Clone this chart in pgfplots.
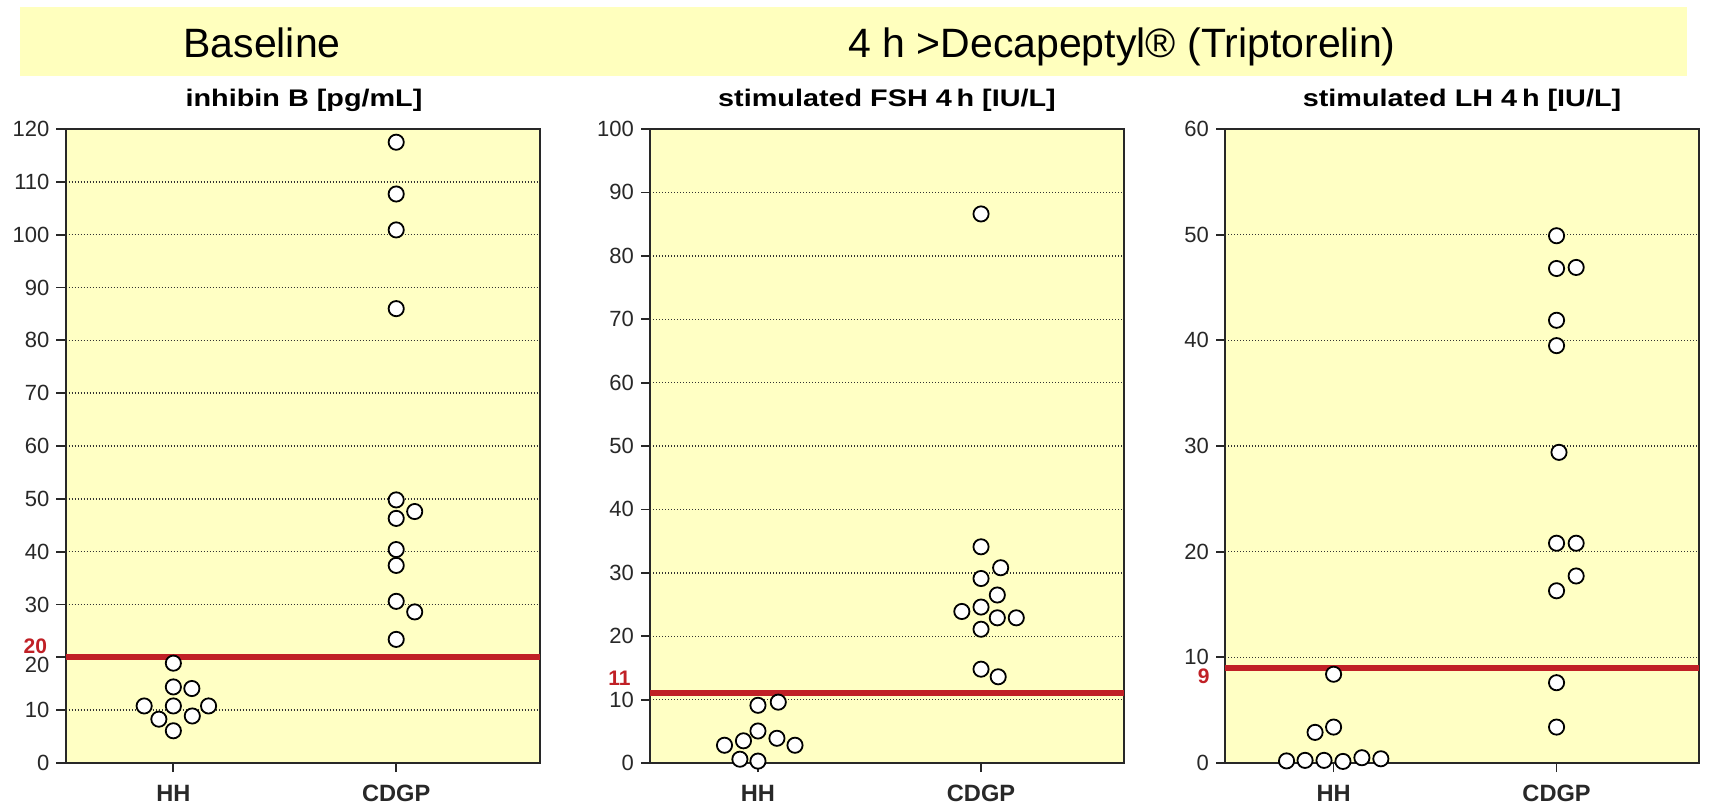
\documentclass[border=0pt]{standalone}
\usepackage{fontspec}
\setmainfont{Liberation Sans}
\usepackage{pgfplots}
\pgfplotsset{compat=1.18}
\definecolor{panel}{RGB}{255,255,196}
\definecolor{banner}{RGB}{255,255,190}
\definecolor{thr}{RGB}{192,32,38}
\definecolor{axc}{RGB}{40,40,40}

\pgfplotsset{
 dotplot/.style={
  scale only axis, width=237pt, height=317pt, ymin=0,
  axis background/.style={fill=panel},
  axis line style={axc, line width=1pt},
  tick align=outside, tick pos=left,
  major tick length=4.5pt,
  tick style={axc, line width=0.9pt},
  xtick={1,2}, xticklabels={HH,CDGP},
  xticklabel style={font=\fontsize{11.8}{13}\selectfont\bfseries, text=axc, yshift=-3pt},
  yticklabel style={font=\fontsize{11}{12}\selectfont, text=axc},
  /pgf/number format/assume math mode=true,
  ymajorgrids, major grid style={black!80, line width=0.7pt, dash pattern=on 0.7pt off 0.8pt},
  clip=false,
  anchor=south west,
 },
 pts/.style={only marks, mark=*, mark size=3.8pt, mark options={fill=white, draw=black, line width=0.9pt}},
 thrline/.style={thr, line width=3pt},
}
\tikzset{thrlab/.style={text=thr, font=\fontsize{10.5}{12}\selectfont\bfseries, inner sep=0pt}}

\begin{document}
\begin{tikzpicture}
\path[use as bounding box, fill=white] (0,0) rectangle (856pt,405.5pt);
% banner
\fill[banner] (10pt,367.5pt) rectangle (843.5pt,402pt);
\node[anchor=base west, inner sep=0pt, font=\fontsize{20.5}{24}\selectfont] at (91.5pt,377pt) {Baseline};
\node[anchor=base west, inner sep=0pt, font=\fontsize{20.5}{24}\selectfont] at (424pt,377pt) {4 h >Decapeptyl® (Triptorelin)};
% panel titles
\node[anchor=base, inner sep=0pt, font=\fontsize{12}{13}\selectfont\bfseries] at (152pt,352.5pt) {\scalebox{1.2}[1]{inhibin B [pg/mL]}};
\node[anchor=base, inner sep=0pt, font=\fontsize{12}{13}\selectfont\bfseries] at (443.5pt,352.5pt) {\scalebox{1.2}[1]{stimulated FSH 4\,h [IU/L]}};
\node[anchor=base, inner sep=0pt, font=\fontsize{12}{13}\selectfont\bfseries] at (731pt,352.5pt) {\scalebox{1.2}[1]{stimulated LH 4\,h [IU/L]}};

% Panel 1: inhibin B
\begin{axis}[dotplot, at={(32.75pt,24pt)}, xmin=0.516, xmax=2.643, ymax=120,
  ytick={0,10,30,40,50,60,70,80,90,100,110,120},
  extra y ticks={20}, extra y tick style={yticklabel style={yshift=-4pt}}]
\addplot[thrline] coordinates {(0.516,20) (2.643,20)};
\addplot[pts] table {
x y
1 18.9
1 14.4
1.083 14.1
0.869 10.8
1 10.8
1.158 10.8
0.935 8.3
1.085 8.9
1 6.1
};
\addplot[pts] table {
x y
2 117.5
2 107.7
2 100.9
2 86.0
2 49.8
2.083 47.6
2 46.3
2 40.4
2 37.4
2 30.6
2.083 28.6
2 23.4
};
\node[thrlab, anchor=base east] at (axis cs:0.516,20) [xshift=-9pt, yshift=2pt] {20};
\end{axis}

% Panel 2: FSH
\begin{axis}[dotplot, at={(325pt,24pt)}, xmin=0.516, xmax=2.641, ymax=100, ytick={0,10,...,100}]
\addplot[thrline] coordinates {(0.516,11) (2.641,11)};
\addplot[pts] table {
x y
1 9.1
1.091 9.6
1 5.05
0.935 3.5
1.085 3.9
0.85 2.8
1.166 2.8
0.919 0.6
1 0.3
};
\addplot[pts] table {
x y
2 86.6
2 34.1
2.088 30.8
2 29.1
2.073 26.5
1.914 23.9
2 24.6
2.073 22.9
2.158 22.9
2 21.1
2 14.8
2.077 13.6
};
\node[thrlab, anchor=base east] at (axis cs:0.516,11) [xshift=-9.5pt, yshift=4pt] {11};
\end{axis}

% Panel 3: LH
\begin{axis}[dotplot, at={(612.5pt,24pt)}, xmin=0.513, xmax=2.639, ymax=60, ytick={0,10,...,60}]
\addplot[thrline] coordinates {(0.513,9) (2.639,9)};
\addplot[pts] table {
x y
1 8.4
1 3.4
0.917 2.9
0.789 0.2
0.872 0.25
0.957 0.25
1.042 0.15
1.127 0.5
1.212 0.4
};
\addplot[pts] table {
x y
2 49.9
2 46.8
2.088 46.9
2 41.9
2 39.5
2.011 29.4
2 20.8
2.088 20.8
2.088 17.7
2 16.3
2 7.6
2 3.4
};
\node[thrlab, anchor=base east] at (axis cs:0.513,9) [xshift=-7.5pt, yshift=-8pt] {9};
\end{axis}
\end{tikzpicture}
\end{document}
